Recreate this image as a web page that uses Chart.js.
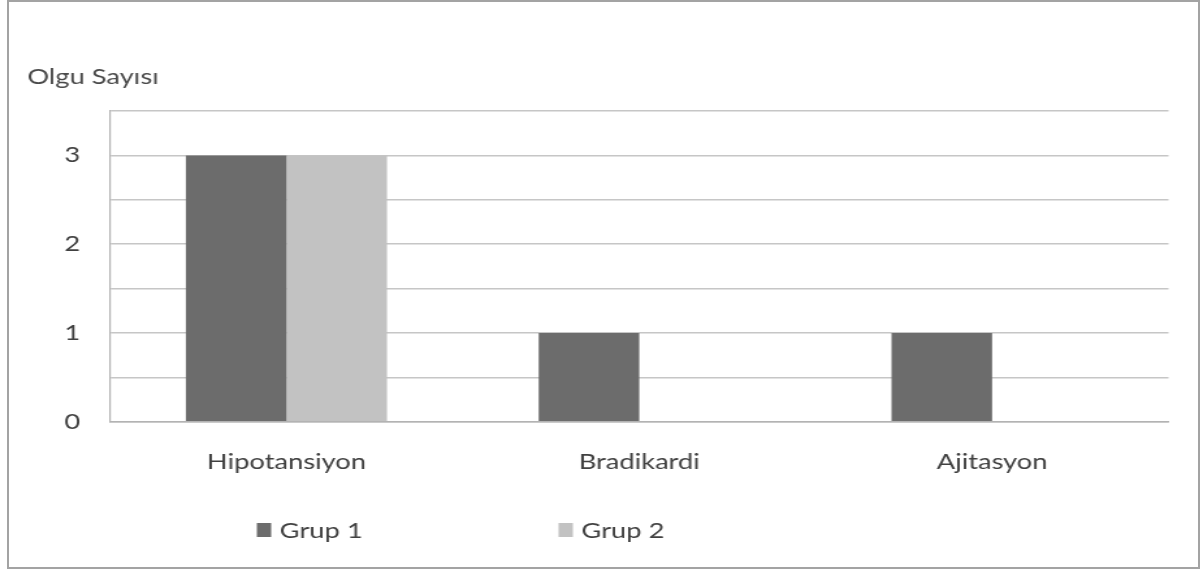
<!DOCTYPE html>
<html>
<head>
<meta charset="utf-8">
<script src="https://cdn.jsdelivr.net/npm/chart.js@4"></script>
<style>
  html, body { margin: 0; padding: 0; background: #fff; overflow: hidden; }
  #wrap { position: relative; width: 1203px; height: 574px; overflow: hidden; }
  #frame { position: absolute; left: 7px; top: 0px; width: 1189px; height: 565px;
           border: 2px solid #a3a3a3; pointer-events: none; }
  /* the chart is drawn at a narrower width and widened horizontally */
  #c { position: absolute; left: 0; top: 0; transform-origin: 0 0; transform: scaleX(1.3005); }
</style>
</head>
<body>
<div id="wrap">
  <canvas id="c" width="925" height="574"></canvas>
  <div id="frame"></div>
</div>
<script>
// Side effects observed per group
const categories = ['Hipotansiyon', 'Bradikardi', 'Ajitasyon'];
const grup1 = [3, 1, 1];
const grup2 = [3, 0, 0];
const seriesNames = ['Grup 1', 'Grup 2'];
const yTickLabels = [0, 1, 2, 3];
const yAxisTitle = 'Olgu Sayısı';

const FONT = 'Lato, "Open Sans", sans-serif';
const TEXT = '#404040';

// Legend drawn as a single row below the axis labels
const legendRow = {
  id: 'legendRow',
  afterDraw(chart) {
    const ctx = chart.ctx;
    const startX = 197.5, y = 530, gap = 232, boxW = 11, boxH = 14, textGap = 6.5;
    ctx.save();
    ctx.font = '21px ' + FONT;
    ctx.textBaseline = 'middle';
    ctx.textAlign = 'left';
    chart.data.datasets.forEach((ds, i) => {
      const x = startX + i * gap;
      ctx.fillStyle = ds.backgroundColor;
      ctx.fillRect(x, y - boxH / 2, boxW, boxH);
      ctx.fillStyle = TEXT;
      ctx.fillText(ds.label, x + boxW + textGap, y + 1);
    });
    ctx.restore();
  }
};

new Chart(document.getElementById('c'), {
  type: 'bar',
  data: {
    labels: categories,
    datasets: [
      { label: seriesNames[0], data: grup1, backgroundColor: '#6c6c6c' },
      { label: seriesNames[1], data: grup2, backgroundColor: '#c2c2c2' }
    ]
  },
  options: {
    responsive: false,
    animation: false,
    devicePixelRatio: 1,
    layout: { padding: { left: 21, right: 26.5, top: 0, bottom: 71 } },
    datasets: { bar: { categoryPercentage: 0.57, barPercentage: 1.0 } },
    plugins: {
      legend: { display: false },
      tooltip: { enabled: false },
      title: {
        display: true,
        text: yAxisTitle,
        align: 'start',
        color: '#4a4a4a',
        font: { family: FONT, size: 21, weight: 'normal' },
        padding: { top: 64.4, bottom: 21.4 }
      }
    },
    scales: {
      x: {
        grid: { display: false, drawTicks: false },
        border: { display: true, color: '#b3b3b3', width: 1.5 },
        ticks: { color: TEXT, padding: 28, font: { family: FONT, size: 21 } }
      },
      y: {
        min: 0,
        max: 3.5,
        afterFit(scale) { scale.width = 63.6; },
        grid: { color: '#c6c6c6', lineWidth: 1.5, drawTicks: false },
        border: { display: true, color: '#b3b3b3', width: 1.2 },
        ticks: {
          stepSize: 0.5,
          padding: 23,
          color: TEXT,
          font: { family: FONT, size: 21 },
          callback: v => (yTickLabels.includes(v) ? String(v) : '')
        }
      }
    }
  },
  plugins: [legendRow]
});
</script>
</body>
</html>
